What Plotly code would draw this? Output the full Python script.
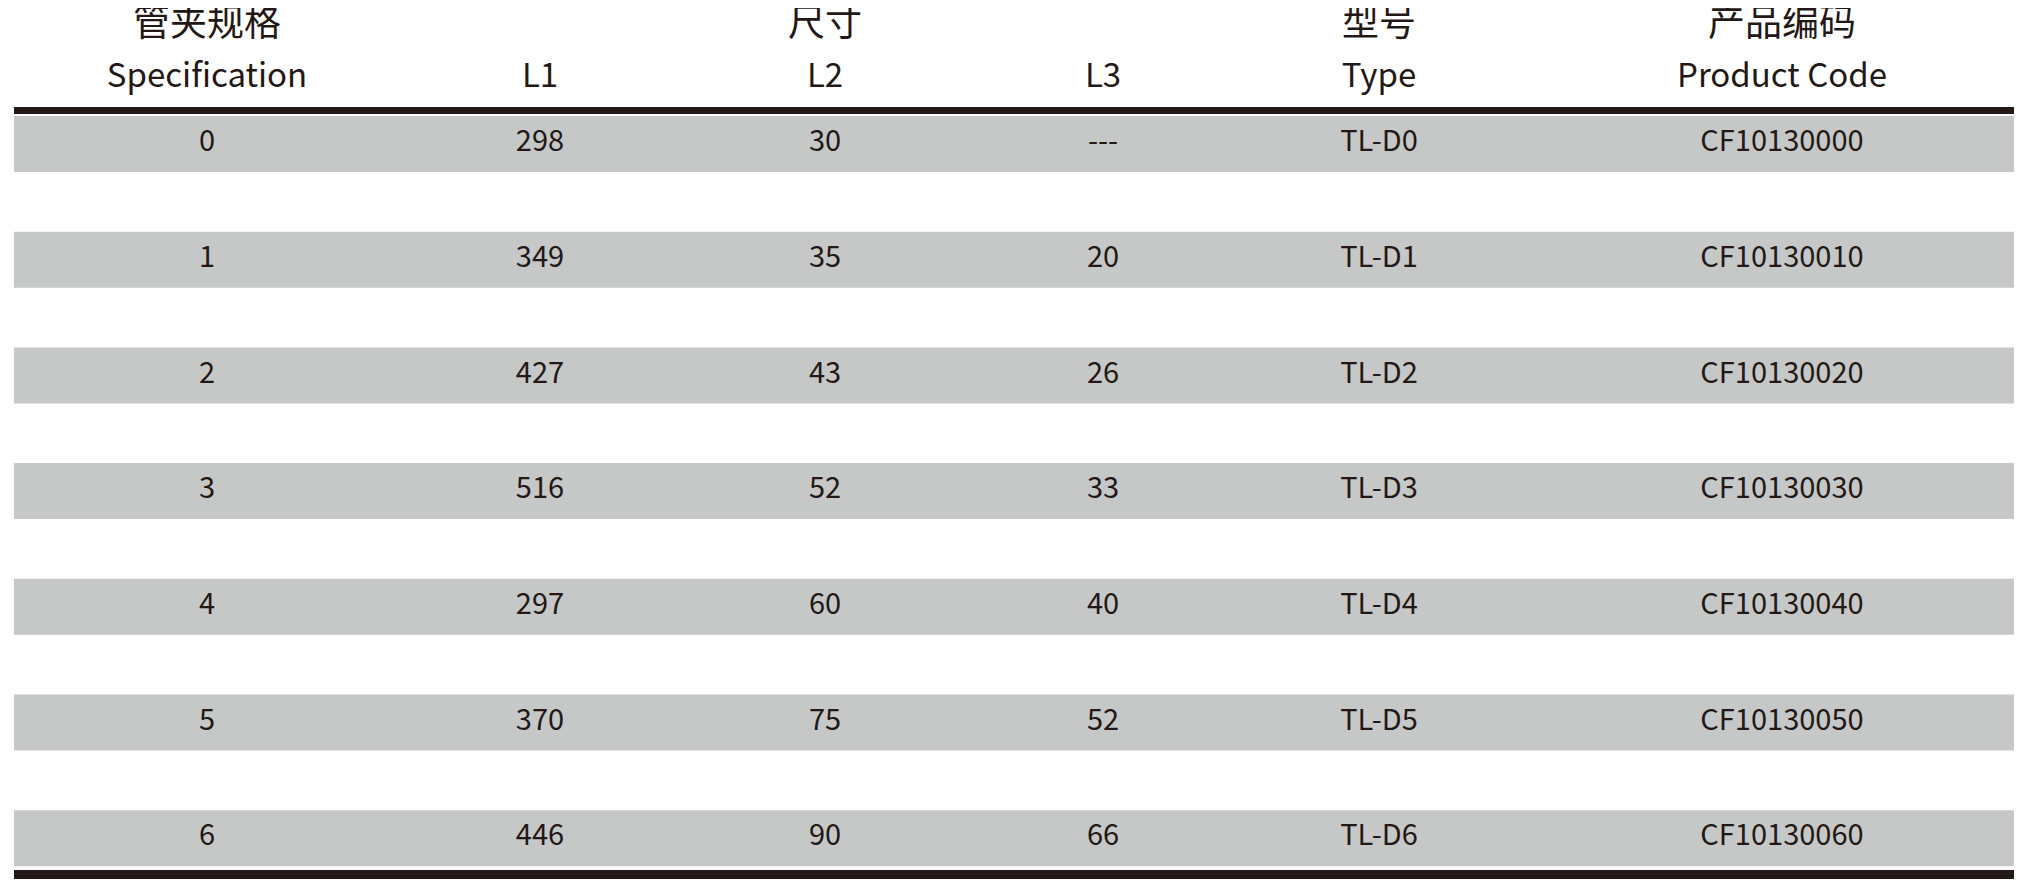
import plotly.graph_objects as go

spec = ["0", "1", "2", "3", "4", "5", "6"]
L1 = ["298", "349", "427", "516", "297", "370", "446"]
L2 = ["30", "35", "43", "52", "60", "75", "90"]
L3 = ["---", "20", "26", "33", "40", "52", "66"]
types = ["TL-D0", "TL-D1", "TL-D2", "TL-D3", "TL-D4", "TL-D5", "TL-D6"]
codes = ["CF10130000", "CF10130010", "CF10130020", "CF10130030", "CF10130040", "CF10130050", "CF10130060"]
head_cn = ["管夹规格", "", "尺寸", "", "型号", "产品编码"]
head_en = ["Specification", "L1", "L2", "L3", "Type", "Product Code"]

W, H = 2030, 889
M = 8  # default page body margin
colx = [207, 540, 825, 1103, 1379, 1782]
row0, step, rh = 144, 115.7, 56
TXT = "#231815"
FONT = "Noto Sans CJK SC"

fig = go.Figure()
shapes = []
for i in range(len(spec)):
    yc = row0 + i * step
    shapes.append(dict(type="rect", xref="x", yref="y", x0=14, x1=2014, y0=yc - rh / 2, y1=yc + rh / 2,
                       fillcolor="#c6c8c7", line_width=0, layer="below"))
shapes.append(dict(type="rect", xref="x", yref="y", x0=14, x1=2014, y0=107, y1=114, fillcolor=TXT, line_width=0))
shapes.append(dict(type="rect", xref="x", yref="y", x0=14, x1=2014, y0=870, y1=879, fillcolor=TXT, line_width=0))

cols = [spec, L1, L2, L3, types, codes]
for cx, vals in zip(colx, cols):
    fig.add_trace(go.Scatter(x=[cx] * len(vals), y=[row0 + i * step for i in range(len(vals))],
                             mode="text", text=vals, textfont=dict(family=FONT, size=29, color=TXT),
                             hoverinfo="skip", showlegend=False, cliponaxis=False))
fig.add_trace(go.Scatter(x=colx, y=[27] * 6, mode="text", text=head_cn,
                         textfont=dict(family=FONT, size=37, color=TXT), hoverinfo="skip",
                         showlegend=False, cliponaxis=False))
fig.add_trace(go.Scatter(x=colx, y=[79] * 6, mode="text", text=head_en,
                         textfont=dict(family=FONT, size=33, color=TXT), hoverinfo="skip",
                         showlegend=False, cliponaxis=False))

fig.update_layout(width=W - 2 * M, height=H - 2 * M, margin=dict(l=0, r=0, t=0, b=0),
                  paper_bgcolor="white", plot_bgcolor="white", shapes=shapes,
                  xaxis=dict(range=[M, W - M], visible=False, fixedrange=True),
                  yaxis=dict(range=[H - M, M], visible=False, fixedrange=True))
fig.write_html("out.html", config={"displayModeBar": False})
